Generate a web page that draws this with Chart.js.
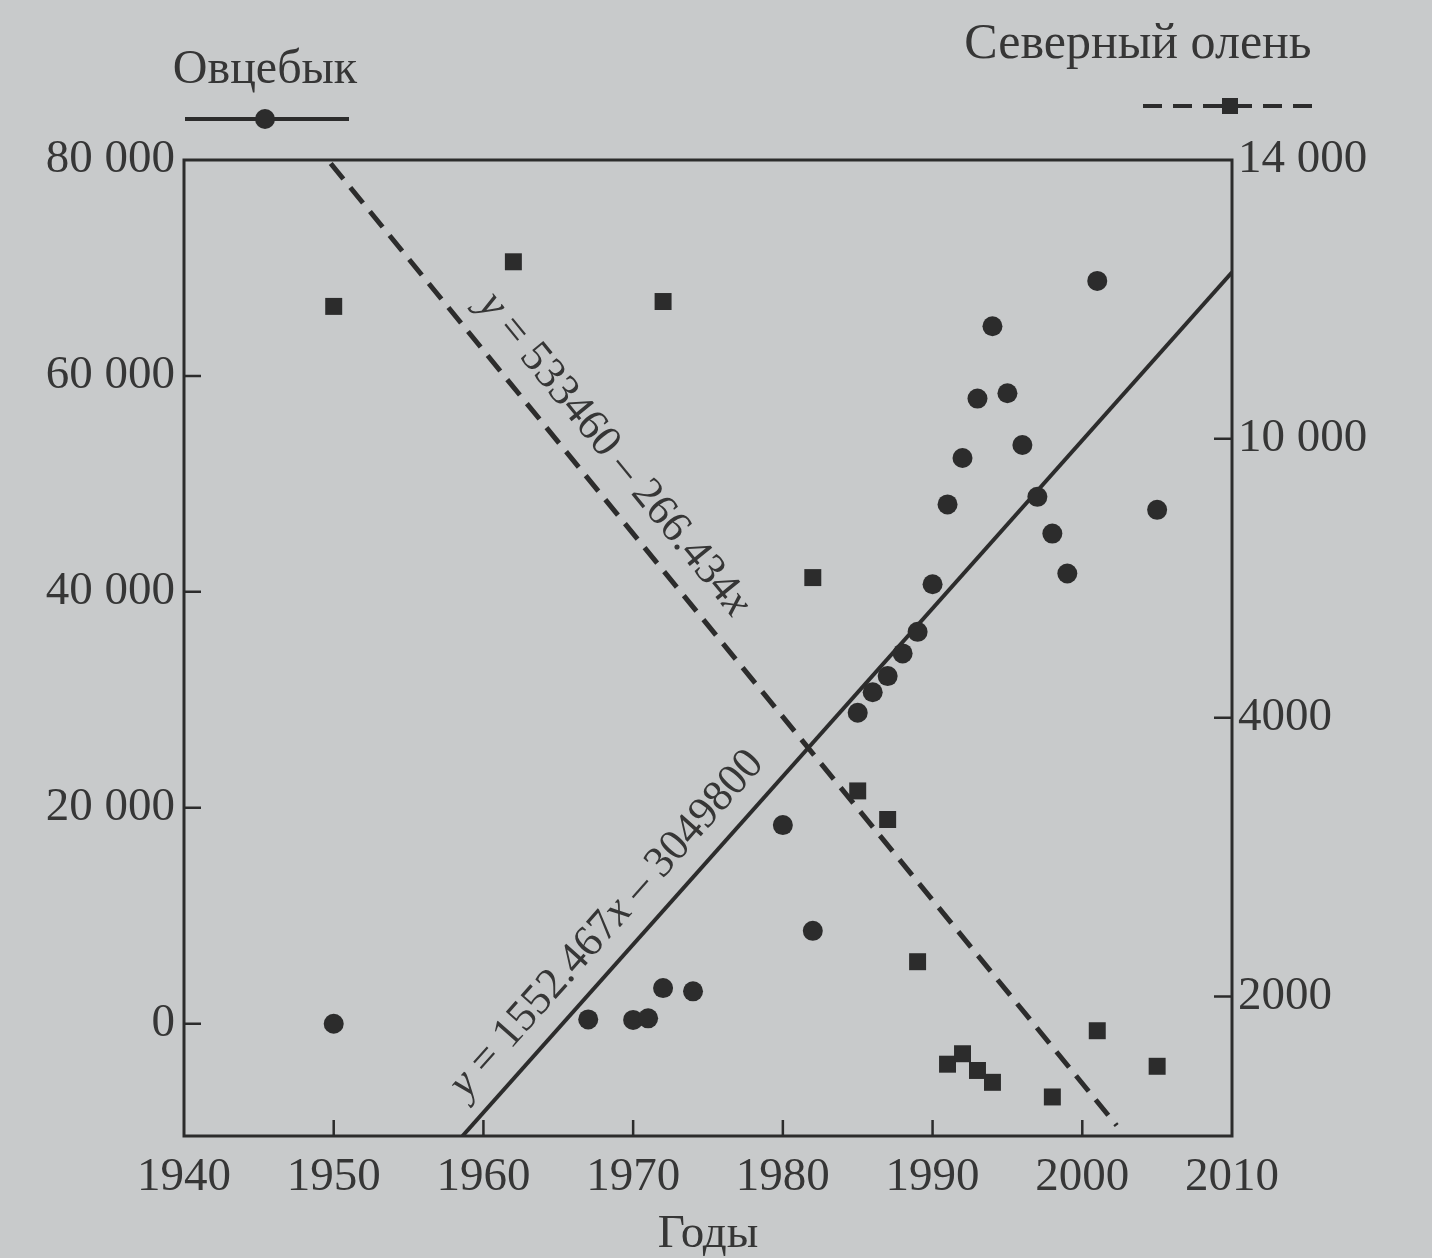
<!DOCTYPE html>
<html>
<head>
<meta charset="utf-8">
<script src="https://cdn.jsdelivr.net/npm/chart.js@4.4.1/dist/chart.umd.min.js"></script>
<style>
  html, body { margin: 0; padding: 0; background: #c8cacb; }
</style>
</head>
<body>
<canvas id="myChart" width="1432" height="1258"></canvas>
<script>
// Овцебык (muskox), left axis
const muskoxYears = [1950, 1967, 1970, 1971, 1972, 1974, 1980, 1982, 1985, 1986, 1987, 1988, 1989,
  1990, 1991, 1992, 1993, 1994, 1995, 1996, 1997, 1998, 1999, 2001, 2005];
const muskoxCounts = [0, 400, 350, 500, 3300, 3000, 18400, 8600, 28800, 30700, 32200, 34300, 36300,
  40700, 48100, 52400, 57900, 64600, 58400, 53600, 48800, 45400, 41700, 68800, 47600];

// Северный олень (reindeer), right axis
const reindeerYears = [1950, 1962, 1972, 1982, 1985, 1987, 1989, 1991, 1992, 1993, 1994, 1998, 2001, 2005];
const reindeerCounts = [11900, 12540, 11970, 8010, 4950, 4540, 2500, 1030, 1180, 940, 770, 560, 1510, 1000];

// trend lines, end points
const muskoxTrendYears = [1958.6, 2010];
const muskoxTrendCounts = [-10400, 69600];
const reindeerTrendYears = [1949.8, 2002.3];
const reindeerTrendCounts = [13950, 150];

// axis ticks
const yearTicks = [1940, 1950, 1960, 1970, 1980, 1990, 2000, 2010];
const leftTicks = [0, 20000, 40000, 60000, 80000];
const rightTicks = [2000, 6000, 10000, 14000];
const rightTickLabels = ['2000', '4000', '10 000', '14 000']; // the book prints "4000" at the 6000 mark

const ink = '#2c2c2c';
const textInk = '#363636';
const serif = 'Liberation Serif';
const tickFont = { family: serif, size: 47, lineHeight: 1 };

const toPoints = (xs, ys) => xs.map((x, i) => ({ x: x, y: ys[i] }));
const spaced = v => String(v).replace(/\B(?=(\d{3})+(?!\d))/g, ' ');

// frame + inward tick marks
const frameAndTicks = {
  id: 'frameAndTicks',
  afterDatasetsDraw(chart) {
    const { ctx, chartArea: a, scales } = chart;
    ctx.save();
    ctx.strokeStyle = ink;
    ctx.lineWidth = 3;
    ctx.strokeRect(a.left, a.top, a.right - a.left, a.bottom - a.top);
    ctx.lineWidth = 2.5;
    ctx.beginPath();
    yearTicks.forEach(v => {
      if (v <= scales.x.min || v >= scales.x.max) return;
      const px = scales.x.getPixelForValue(v);
      ctx.moveTo(px, a.bottom); ctx.lineTo(px, a.bottom - 16);
    });
    leftTicks.forEach(v => {
      if (v >= scales.y.max) return;
      const py = scales.y.getPixelForValue(v);
      ctx.moveTo(a.left, py); ctx.lineTo(a.left + 17, py);
    });
    rightTicks.forEach(v => {
      if (v >= scales.y2.max) return;
      const py = scales.y2.getPixelForValue(v);
      ctx.moveTo(a.right, py); ctx.lineTo(a.right - 18, py);
    });
    ctx.stroke();
    ctx.restore();
  }
};

// equations written along the trend lines
const equationLabels = {
  id: 'equationLabels',
  afterDatasetsDraw(chart, args, opts) {
    const ctx = chart.ctx;
    opts.items.forEach(item => {
      const meta = chart.getDatasetMeta(item.dataset);
      const p0 = meta.data[0], p1 = meta.data[1];
      const ang = Math.atan2(p1.y - p0.y, p1.x - p0.x);
      const ax = chart.scales.x.getPixelForValue(item.atYear);
      const t = (ax - p0.x) / (p1.x - p0.x);
      const ay = p0.y + t * (p1.y - p0.y);
      ctx.save();
      ctx.translate(ax + Math.sin(ang) * item.offset, ay - Math.cos(ang) * item.offset);
      ctx.rotate(ang);
      ctx.fillStyle = textInk;
      ctx.textBaseline = 'middle';
      const fonts = item.parts.map(p => (p.italic ? 'italic ' : '') + opts.size + 'px "' + serif + '"');
      let total = 0;
      const widths = item.parts.map((p, i) => { ctx.font = fonts[i]; const w = ctx.measureText(p.text).width; total += w; return w; });
      let x = -total / 2;
      item.parts.forEach((p, i) => {
        ctx.font = fonts[i];
        ctx.fillText(p.text, x, 0);
        x += widths[i];
      });
      ctx.restore();
    });
  }
};

// two-sided legend above the plot
const topLegend = {
  id: 'topLegend',
  afterDraw(chart) {
    const ctx = chart.ctx;
    ctx.save();
    ctx.fillStyle = textInk;
    ctx.textAlign = 'center';
    ctx.textBaseline = 'middle';
    ctx.font = '48px "' + serif + '"';
    ctx.fillText('Овцебык', 265, 70);
    ctx.font = '50px "' + serif + '"';
    ctx.fillText('Северный олень', 1138, 45);

    ctx.strokeStyle = ink;
    ctx.fillStyle = ink;
    ctx.lineWidth = 4;
    ctx.beginPath();
    ctx.moveTo(185, 119); ctx.lineTo(349, 119);
    ctx.stroke();
    ctx.beginPath();
    ctx.arc(265, 119, 10, 0, Math.PI * 2);
    ctx.fill();

    ctx.setLineDash([19, 11]);
    ctx.beginPath();
    ctx.moveTo(1143, 106); ctx.lineTo(1322, 106);
    ctx.stroke();
    ctx.setLineDash([]);
    ctx.fillRect(1222, 98, 16, 16);
    ctx.restore();
  }
};

const ctx = document.getElementById('myChart');

new Chart(ctx, {
  type: 'scatter',
  data: {
    datasets: [
      {
        label: 'Овцебык',
        data: toPoints(muskoxYears, muskoxCounts),
        pointStyle: 'circle',
        pointRadius: 10,
        backgroundColor: ink,
        borderWidth: 0,
        yAxisID: 'y'
      },
      {
        label: 'Северный олень',
        data: toPoints(reindeerYears, reindeerCounts),
        pointStyle: 'rect',
        pointRadius: 12,
        backgroundColor: ink,
        borderWidth: 0,
        yAxisID: 'y2'
      },
      {
        label: 'trend muskox',
        type: 'line',
        data: toPoints(muskoxTrendYears, muskoxTrendCounts),
        borderColor: ink,
        borderWidth: 4,
        pointRadius: 0,
        yAxisID: 'y'
      },
      {
        label: 'trend reindeer',
        type: 'line',
        data: toPoints(reindeerTrendYears, reindeerTrendCounts),
        borderColor: ink,
        borderWidth: 5,
        borderDash: [20, 11],
        pointRadius: 0,
        yAxisID: 'y2'
      }
    ]
  },
  options: {
    responsive: false,
    animation: false,
    devicePixelRatio: 1,
    layout: { padding: { top: 160, left: 0, right: 0, bottom: 0 } },
    plugins: {
      legend: { display: false },
      tooltip: { enabled: false },
      equationLabels: {
        size: 44,
        items: [
          { dataset: 3, atYear: 1966.9, offset: 35,
            parts: [{ text: 'y', italic: true }, { text: ' = 533460 – 266.434' }, { text: 'x', italic: true }] },
          { dataset: 2, atYear: 1969.9, offset: 33,
            parts: [{ text: 'y', italic: true }, { text: ' = 1552.467' }, { text: 'x', italic: true }, { text: ' – 3049800' }] }
        ]
      }
    },
    scales: {
      x: {
        type: 'linear',
        min: 1940,
        max: 2010,
        afterBuildTicks: s => { s.ticks = yearTicks.map(v => ({ value: v })); },
        afterFit: s => { s.height = 122; },
        grid: { display: false, drawTicks: false },
        border: { display: false },
        ticks: { padding: 18, color: textInk, font: tickFont, maxRotation: 0, callback: v => String(v) },
        title: { display: true, text: 'Годы', color: textInk, font: tickFont, padding: { top: 0, bottom: 0 } }
      },
      y: {
        position: 'left',
        min: -10400,
        max: 80000,
        afterBuildTicks: s => { s.ticks = leftTicks.map(v => ({ value: v })); },
        afterFit: s => { s.width = 184; },
        grid: { display: false, drawTicks: false },
        border: { display: false },
        ticks: { padding: 9, color: textInk, font: tickFont, callback: v => spaced(v) }
      },
      y2: {
        position: 'right',
        min: 0,
        max: 14000,
        afterBuildTicks: s => { s.ticks = rightTicks.map(v => ({ value: v })); },
        afterFit: s => { s.width = 200; },
        grid: { display: false, drawTicks: false },
        border: { display: false },
        ticks: { padding: 6, color: textInk, font: tickFont,
          callback: v => rightTickLabels[rightTicks.indexOf(v)] }
      }
    }
  },
  plugins: [frameAndTicks, equationLabels, topLegend]
});
</script>
</body>
</html>
